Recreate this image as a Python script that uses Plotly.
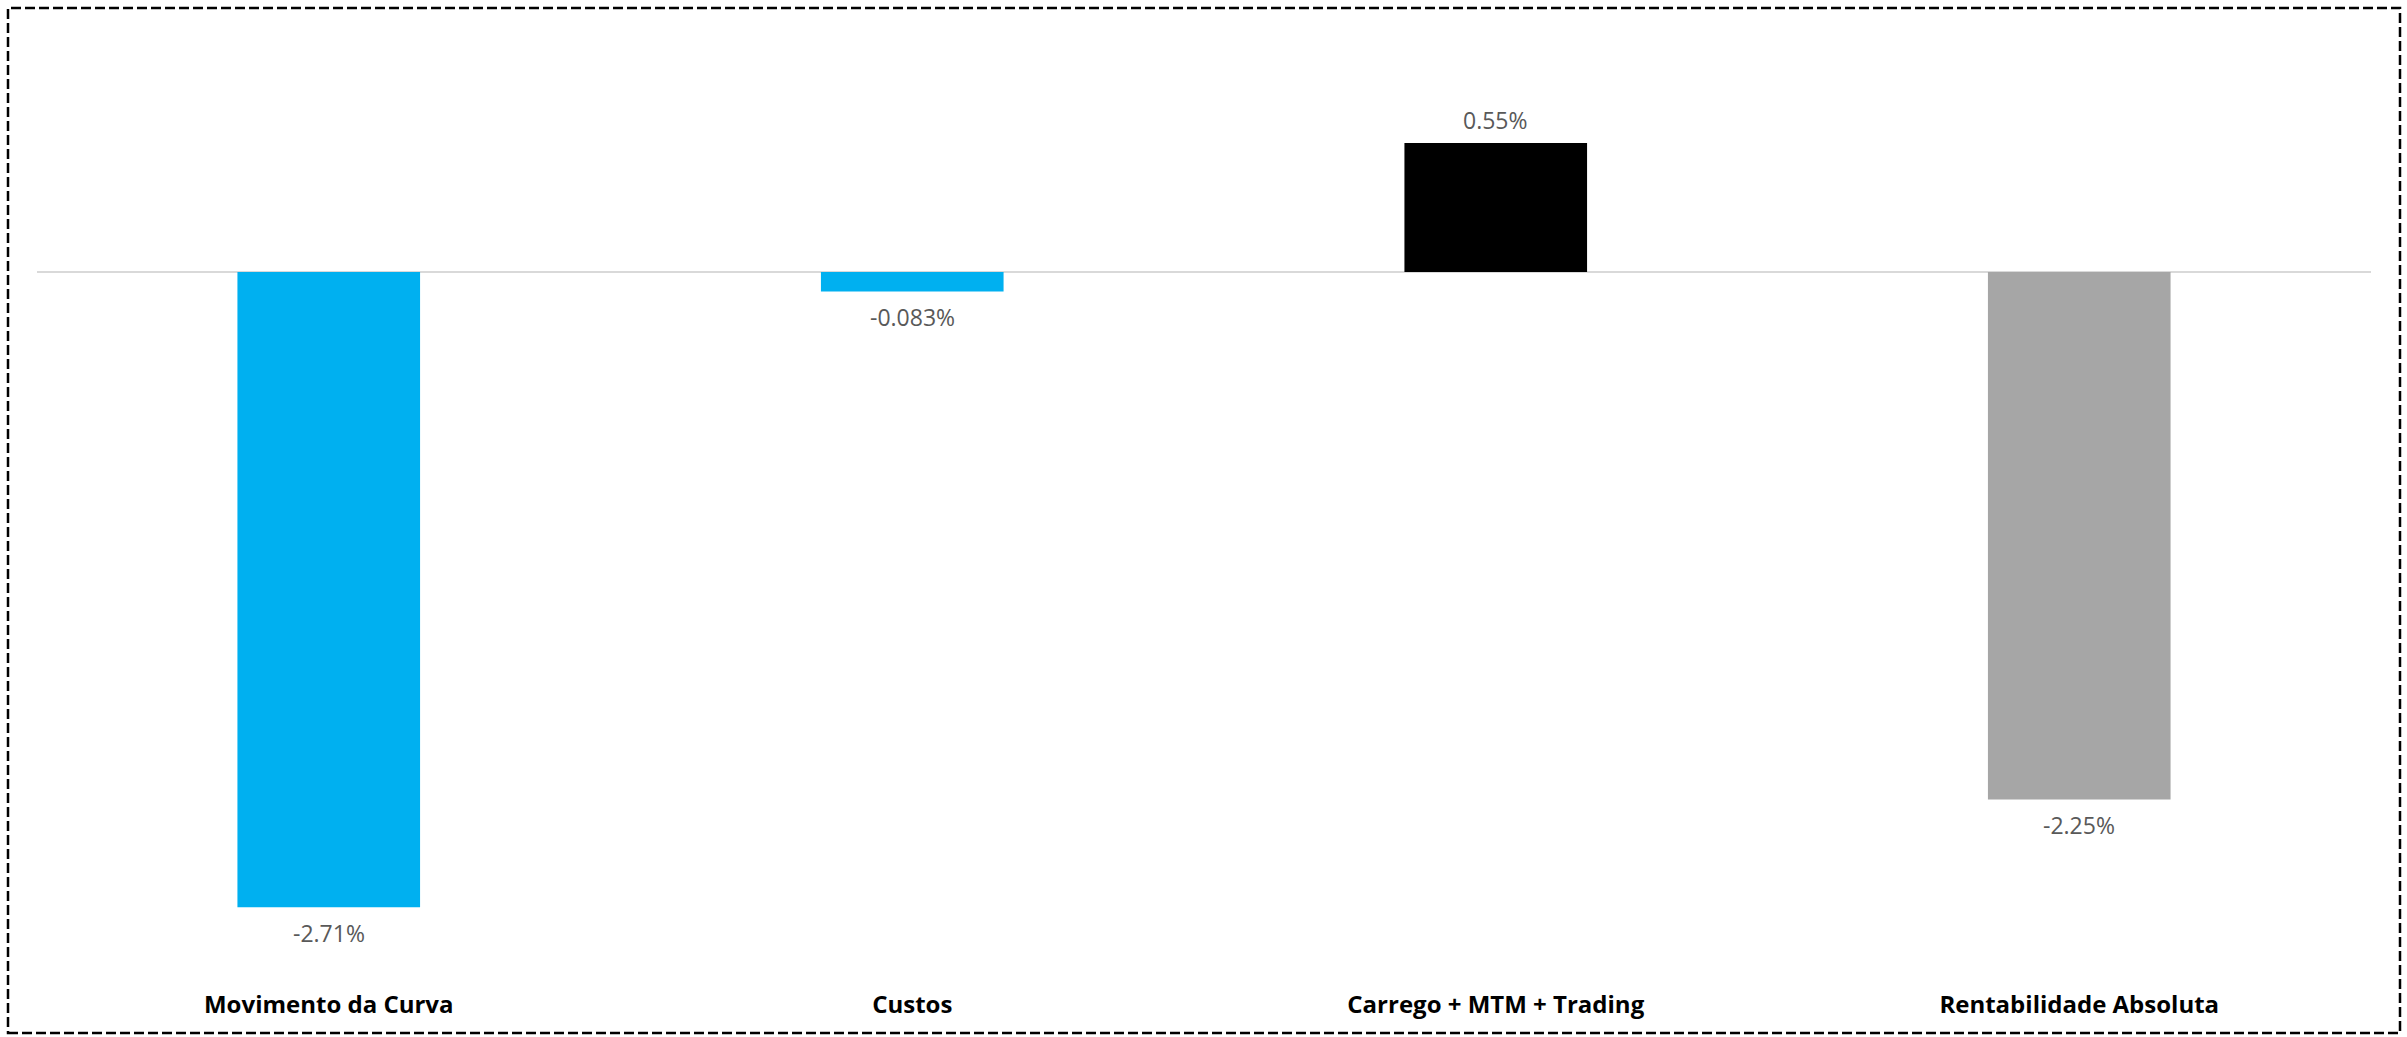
import plotly.graph_objects as go

categories = ["Movimento da Curva", "Custos", "Carrego + MTM + Trading", "Rentabilidade Absoluta"]
values = [-2.71, -0.083, 0.55, -2.25]
value_labels = ["-2.71%", "-0.083%", "0.55%", "-2.25%"]
colors = ["#00B0F0", "#00B0F0", "#000000", "#A6A6A6"]

W, H = 2407, 1037
ml, mr, mt, mb = 37, 36, 20, 57
plot_w = W - ml - mr
plot_h = H - mt - mb

fig = go.Figure(go.Bar(
    x=categories, y=values,
    marker=dict(color=colors, line=dict(width=0)),
    width=0.313,
    hoverinfo="x+y",
))

for c, v, t in zip(categories, values, value_labels):
    fig.add_annotation(x=c, y=v, text=t, showarrow=False,
                       yanchor="middle", yshift=(23 if v > 0 else -26),
                       font=dict(family="Open Sans", size=23, color="#595959"))

def px_x(p):
    return (p - ml) / plot_w

def px_y(p):
    return (H - mb - p) / plot_h

fig.add_shape(type="rect", xref="paper", yref="paper",
              x0=px_x(8), x1=px_x(2400), y0=px_y(1033), y1=px_y(8),
              line=dict(color="#000000", width=2.5, dash="10px,4px"),
              fillcolor="rgba(0,0,0,0)", layer="above")

fig.update_layout(
    width=W, height=H,
    margin=dict(l=ml, r=mr, t=mt, b=mb),
    paper_bgcolor="white", plot_bgcolor="white",
    showlegend=False,
    xaxis=dict(showline=False, showgrid=False, ticks="",
               tickfont=dict(family="Open Sans", size=24, color="#000000", weight="bold"),
               ticklabelstandoff=8,
               range=[-0.5, 3.5]),
    yaxis=dict(range=[-3.0205, 1.075], showgrid=False, showticklabels=False,
               zeroline=True, zerolinecolor="#D9D9D9", zerolinewidth=2),
)

fig.write_html("out.html")
